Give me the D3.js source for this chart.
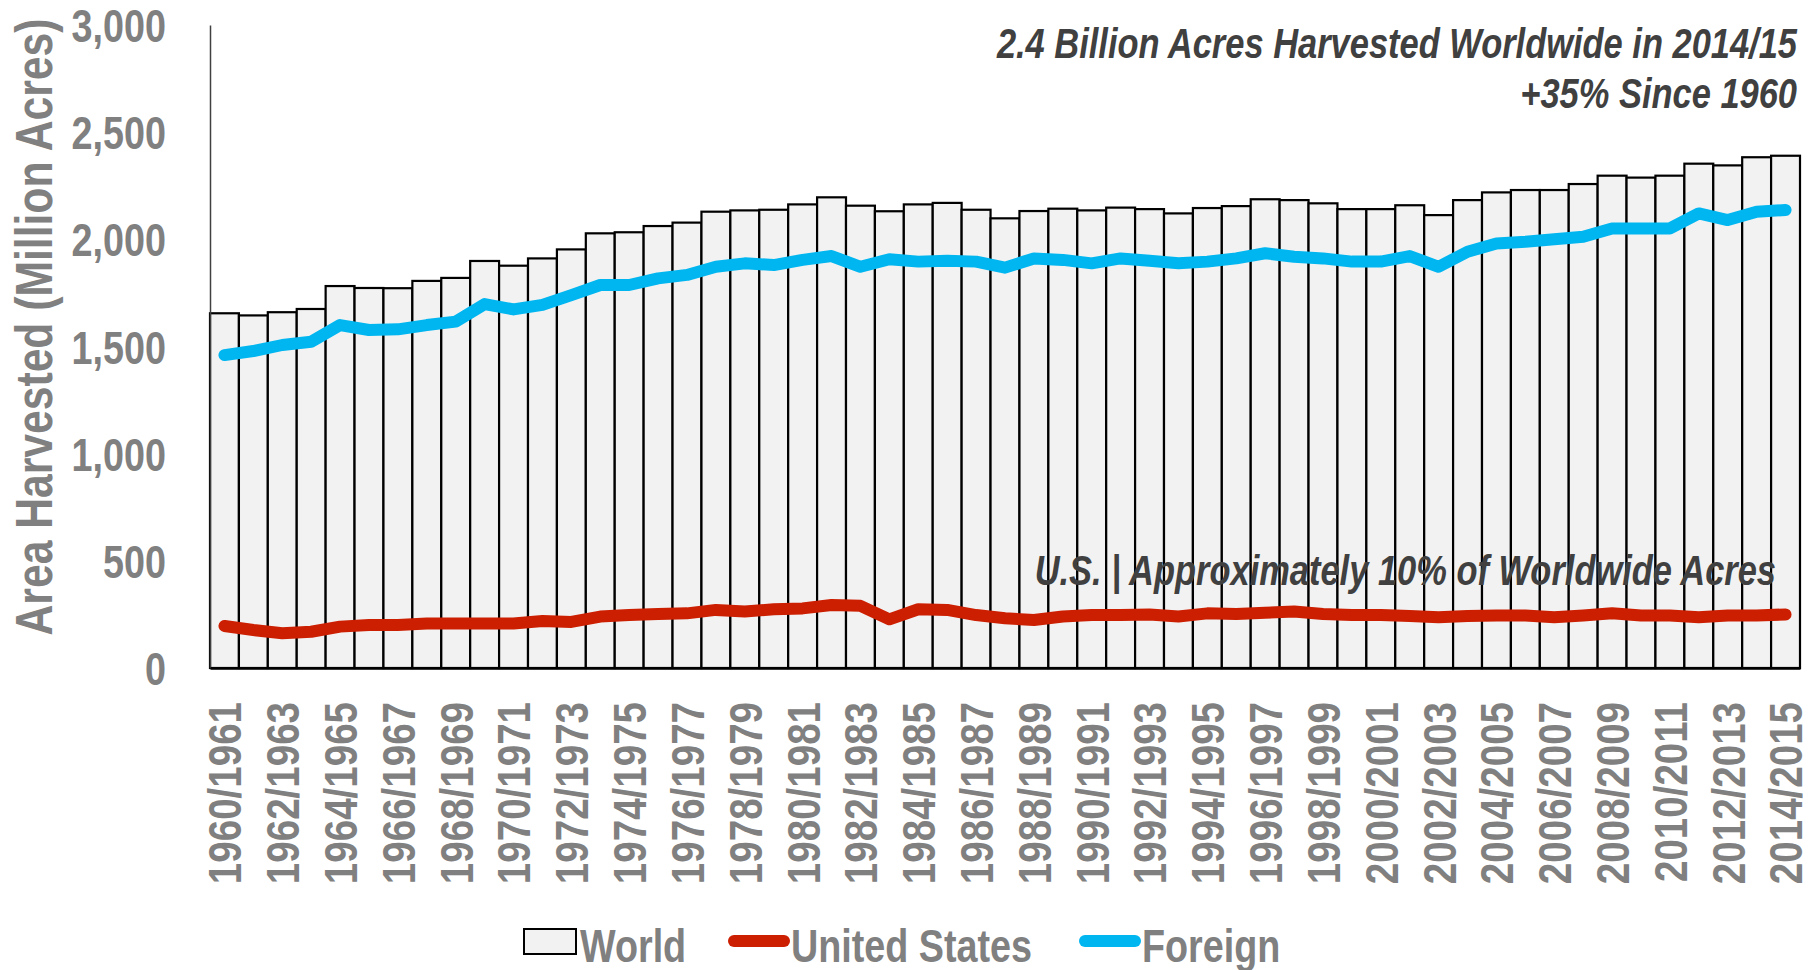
<!DOCTYPE html>
<html>
<head>
<meta charset="utf-8">
<script src="https://cdn.jsdelivr.net/npm/d3@7"></script>
<style>
    html, body { margin: 0; padding: 0; background: #fff; }
    svg { display: block; }
    .narrow { font-family: "Liberation Sans", Arial, sans-serif; font-weight: bold; }
</style>
</head>
<body>
<svg id="chart" width="1820" height="970"></svg>
<script>
// marketing years, one bar per season
var years = d3.range(1960, 2015);

// area harvested, million acres
var world = [1655, 1645, 1660, 1675, 1782, 1773, 1772, 1806, 1820, 1899,
             1877, 1911, 1953, 2028, 2033, 2062, 2078, 2129, 2135, 2138,
             2163, 2196, 2157, 2131, 2163, 2170, 2138, 2098, 2132, 2143,
             2135, 2148, 2141, 2121, 2146, 2155, 2187, 2183, 2168, 2141,
             2141, 2159, 2113, 2183, 2219, 2230, 2230, 2258, 2297, 2288,
             2297, 2353, 2345, 2383, 2390];
var unitedStates = [196, 177, 162, 169, 193, 201, 201, 208, 208, 208,
                    208, 219, 215, 240, 247, 252, 255, 271, 264, 274,
                    278, 294, 290, 227, 274, 271, 247, 232, 224, 240,
                    247, 247, 250, 240, 255, 252, 258, 264, 252, 247,
                    247, 243, 237, 243, 245, 245, 237, 245, 255, 245,
                    245, 237, 245, 245, 250];
var foreign = [1460, 1479, 1507, 1522, 1600, 1577, 1580, 1600, 1616, 1698,
               1673, 1694, 1740, 1787, 1787, 1818, 1834, 1872, 1888, 1880,
               1904, 1922, 1872, 1907, 1896, 1900, 1896, 1868, 1911, 1904,
               1888, 1911, 1900, 1888, 1896, 1911, 1935, 1919, 1911, 1896,
               1896, 1922, 1872, 1942, 1981, 1989, 2000, 2012, 2051, 2051,
               2051, 2121, 2090, 2129, 2137];

var yTicks = [0, 500, 1000, 1500, 2000, 2500, 3000];
var titleLines = ["2.4 Billion Acres Harvested Worldwide in 2014/15", "+35% Since 1960"];
var usNote = "U.S. | Approximately 10% of Worldwide Acres";

var gray = "#808080",
    dark = "#404040",
    red = "#CC1E00",
    blue = "#00B6F0";

var svg = d3.select("#chart");

// no narrow face installed: squeeze the bold face to arial-narrow width
function narrow(sel) {
    sel.each(function () {
        var len = this.getComputedTextLength();
        if (len > 0) {
            d3.select(this)
                .attr("textLength", len * 0.82)
                .attr("lengthAdjust", "spacingAndGlyphs");
        }
    });
}

var x = d3.scaleBand()
    .domain(years)
    .range([210, 1800])
    .padding(0);

var y = d3.scaleLinear()
    .domain([0, 3000])
    .range([668, 25]);

// world bars
svg.append("g")
    .selectAll("rect")
    .data(world)
    .enter()
    .append("rect")
    .attr("x", function (d, i) { return x(years[i]); })
    .attr("y", function (d) { return y(d); })
    .attr("width", x.bandwidth())
    .attr("height", function (d) { return y(0) - y(d); })
    .attr("fill", "#F2F2F2")
    .attr("stroke", "#000")
    .attr("stroke-width", 2.2);

// y axis
var yAxis = svg.append("g")
    .attr("transform", "translate(210,0)")
    .call(d3.axisLeft(y).tickValues(yTicks).tickSize(0).tickPadding(44).tickFormat(d3.format(",")));
yAxis.select(".domain").attr("stroke", dark).attr("stroke-width", 1.5);
yAxis.selectAll("text")
    .attr("class", "narrow")
    .attr("fill", gray)
    .attr("font-size", 46)
    .attr("dy", "0.36em")
    .call(narrow);

// x axis, every second season labelled
var xAxis = svg.append("g")
    .attr("transform", "translate(0,668)")
    .call(d3.axisBottom(x).tickSize(0).tickFormat(function (d) {
        return (d - 1960) % 2 == 0 ? d + "/" + (d + 1) : "";
    }));
xAxis.select(".domain").attr("stroke", "#000").attr("stroke-width", 2.5);
xAxis.selectAll("text")
    .attr("class", "narrow")
    .attr("fill", gray)
    .attr("font-size", 47)
    .attr("text-anchor", "end")
    .attr("transform", "rotate(-90)")
    .attr("x", -34)
    .attr("y", 0)
    .attr("dy", "0.36em")
    .call(narrow);

// lines
var line = function (values) {
    return d3.line()
        .x(function (d, i) { return x(years[i]) + x.bandwidth() / 2; })
        .y(function (d) { return y(d); })(values);
};

[[unitedStates, red], [foreign, blue]].forEach(function (s) {
    svg.append("path")
        .attr("d", line(s[0]))
        .attr("fill", "none")
        .attr("stroke", s[1])
        .attr("stroke-width", 12)
        .attr("stroke-linejoin", "round")
        .attr("stroke-linecap", "round");
});

// annotations
svg.append("g")
    .selectAll("text")
    .data(titleLines)
    .enter()
    .append("text")
    .attr("class", "narrow")
    .attr("font-style", "italic")
    .attr("font-size", 42)
    .attr("fill", dark)
    .attr("text-anchor", "end")
    .attr("x", 1797)
    .attr("y", function (d, i) { return 58 + i * 50; })
    .text(function (d) { return d; })
    .call(narrow);

svg.append("text")
    .attr("class", "narrow")
    .attr("font-style", "italic")
    .attr("font-size", 42)
    .attr("fill", dark)
    .attr("text-anchor", "end")
    .attr("x", 1776)
    .attr("y", 585)
    .text(usNote)
    .call(narrow);

// y axis title
svg.append("text")
    .attr("class", "narrow")
    .attr("font-size", 52)
    .attr("fill", gray)
    .attr("text-anchor", "middle")
    .attr("transform", "translate(33,327) rotate(-90)")
    .attr("dy", "0.36em")
    .text("Area Harvested (Million Acres)")
    .call(narrow);

// legend
var legend = svg.append("g").attr("class", "narrow").attr("font-size", 46).attr("fill", gray);
legend.append("rect")
    .attr("x", 524).attr("y", 929).attr("width", 52).attr("height", 25)
    .attr("fill", "#F2F2F2").attr("stroke", "#000").attr("stroke-width", 2);
legend.append("text").attr("x", 580).attr("y", 962).text("World").call(narrow);

[[734, red, "United States"], [1085, blue, "Foreign"]].forEach(function (item) {
    legend.append("line")
        .attr("x1", item[0]).attr("x2", item[0] + 50)
        .attr("y1", 941).attr("y2", 941)
        .attr("stroke", item[1])
        .attr("stroke-width", 12)
        .attr("stroke-linecap", "round");
    legend.append("text").attr("x", item[0] + 57).attr("y", 962).text(item[2]).call(narrow);
});
</script>
</body>
</html>
